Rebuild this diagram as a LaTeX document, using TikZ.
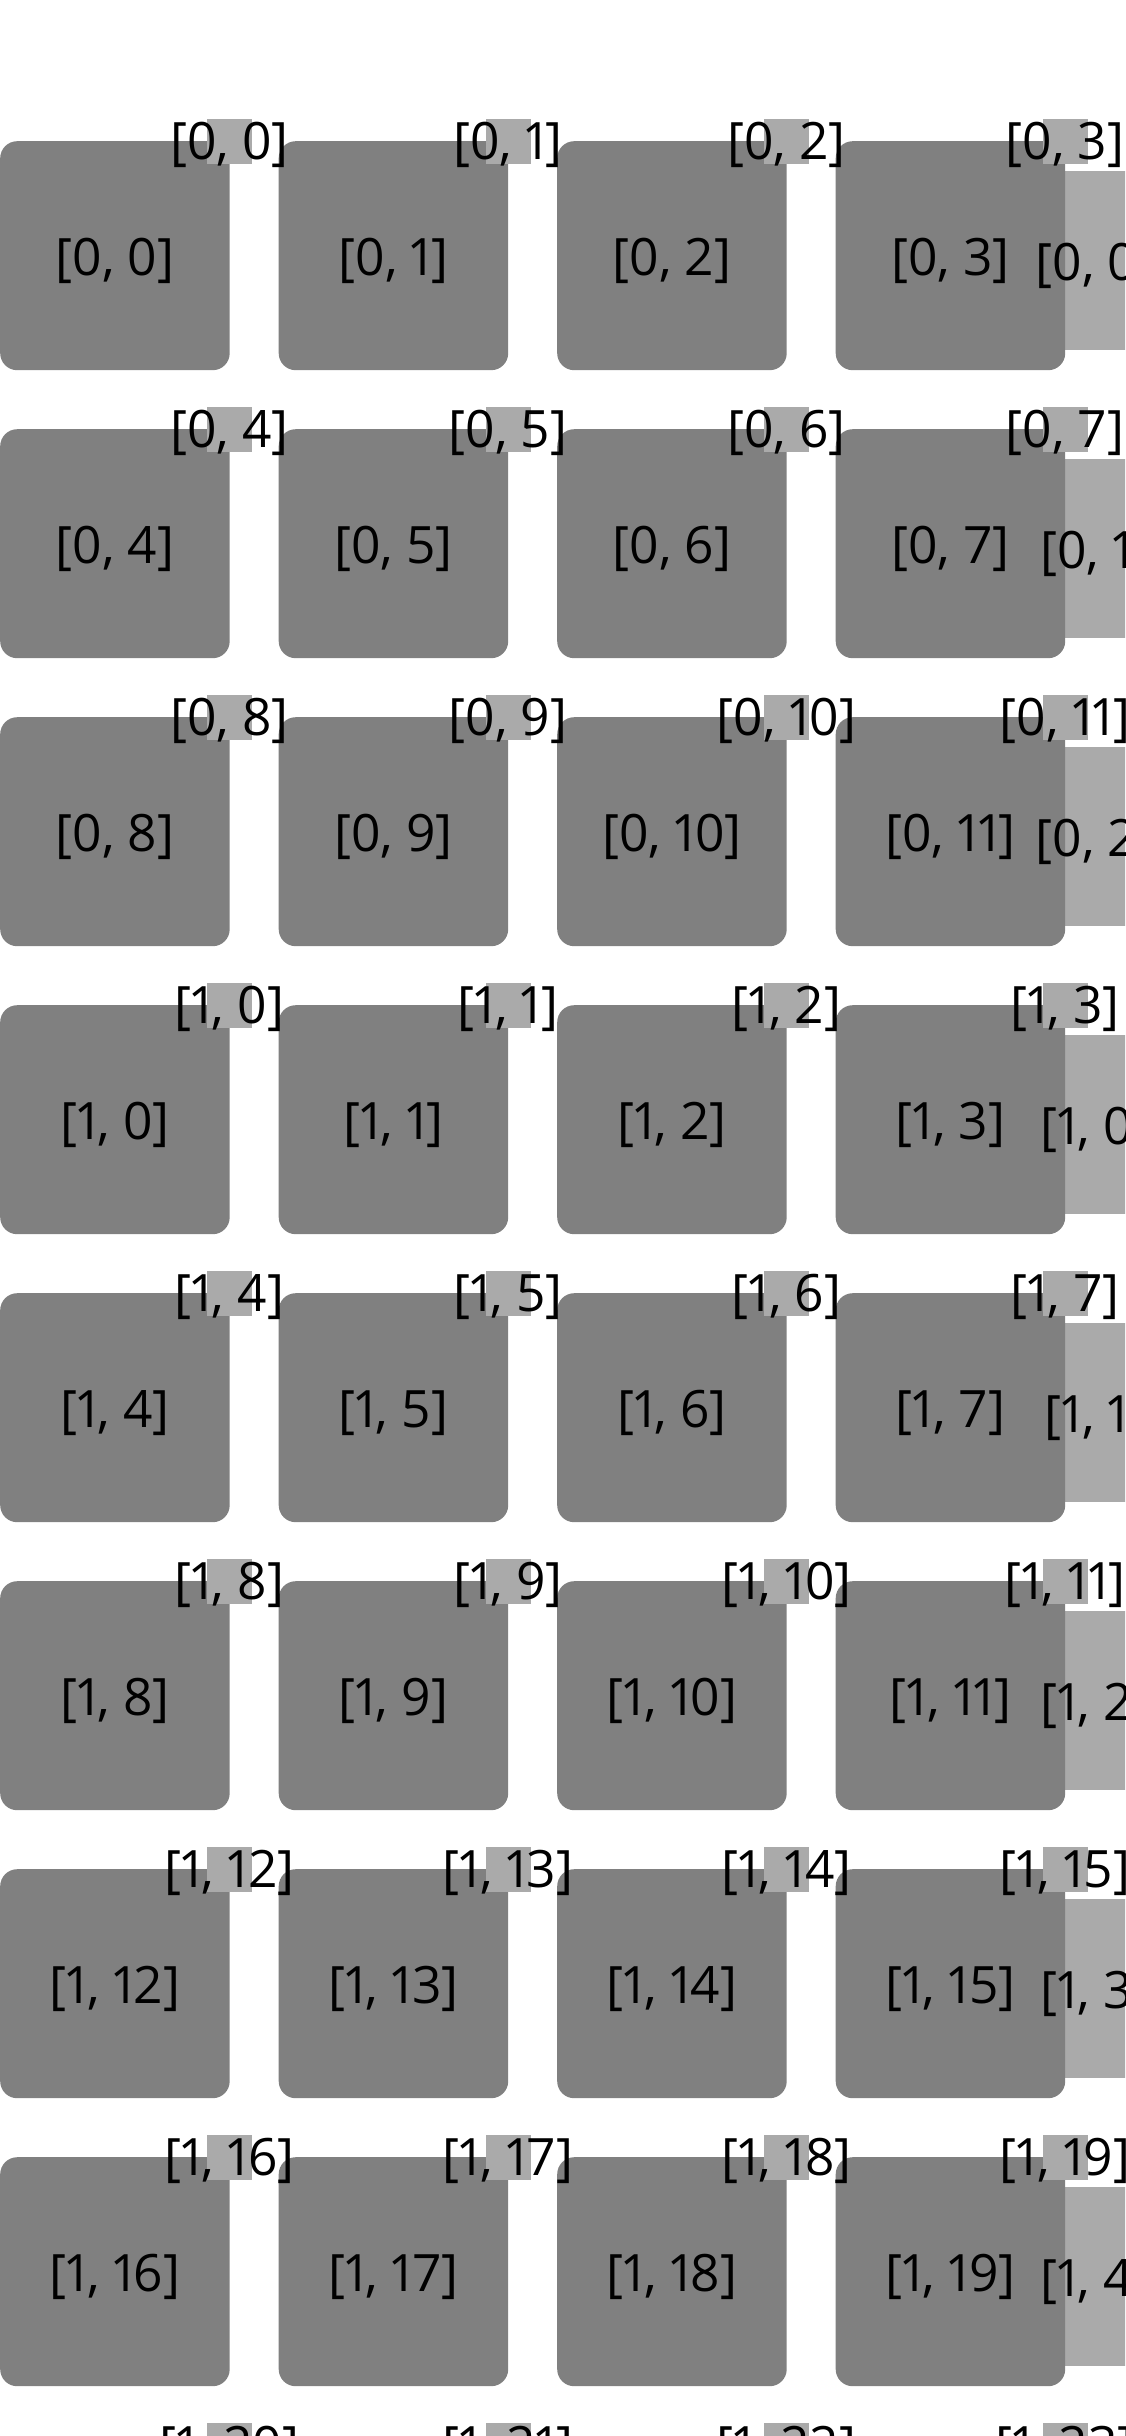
\documentclass[tikz,border=0pt]{standalone}
\usepackage{fontspec}
\setmainfont{Open Sans}[Numbers=Proportional]
\definecolor{tilegray}{RGB}{128,128,128}
\definecolor{softgray}{RGB}{170,170,170}
\begin{document}
\begin{tikzpicture}[x=1pt,y=-1pt,
  tile/.style={fill=tilegray, rounded corners=17pt, draw=none, inner sep=0pt,
    minimum width=229.5pt, minimum height=229pt, anchor=north west},
  marker/.style={fill=softgray, draw=none, inner sep=0pt,
    minimum width=45pt, minimum height=45pt},
  sidebox/.style={fill=softgray, draw=none, inner sep=0pt,
    minimum width=170pt, minimum height=179pt, anchor=north west},
  lbl/.style={font=\fontsize{51.5}{60}\selectfont, text=black, inner sep=0pt, anchor=base}]
\useasboundingbox (0,0) rectangle (1125,2436);
\clip (0,0) rectangle (1125,2436);
\fill[white] (0,0) rectangle (1125,2436);
% side boxes (behind the tiles)
\foreach \r in {0,...,8} {
  \pgfmathsetmacro\y{141+\r*288}
  \node[sidebox] (s-\r) at (1010,\y+30) {};
}
% tiles
\foreach \r in {0,...,8} {
  \foreach \c in {0,...,3} {
    \pgfmathsetmacro\x{\c*278.5}
    \pgfmathsetmacro\y{141+\r*288}
    \node[tile] (t-\r-\c) at (\x,\y) {};
  }
}
% corner markers
\foreach \r in {0,...,8} {
  \foreach \c in {0,...,3} {
    \node[marker] (m-\r-\c) at ([yshift=-0.5pt]t-\r-\c.north east) {};
  }
}
% texts
\foreach \r in {0,...,8} {
  \pgfmathsetmacro\y{141+\r*288}
  \pgfmathtruncatemacro\sec{\r<3 ? 0 : 1}
  \pgfmathtruncatemacro\ritem{\r<3 ? \r : \r-3}
  \node[lbl] (sl-\r) at (1095,\y+139) {[\sec, \ritem]};
  \foreach \c in {0,...,3} {
    \pgfmathsetmacro\x{\c*278.5}
    \pgfmathtruncatemacro\itm{\r<3 ? 4*\r+\c : 4*(\r-3)+\c}
    \node[lbl] (tl-\r-\c) at (\x+115,\y+134.5) {[\sec, \itm]};
    \node[lbl] (hl-\r-\c) at (\x+229.5,\y+18) {[\sec, \itm]};
  }
}
\end{tikzpicture}
\end{document}
